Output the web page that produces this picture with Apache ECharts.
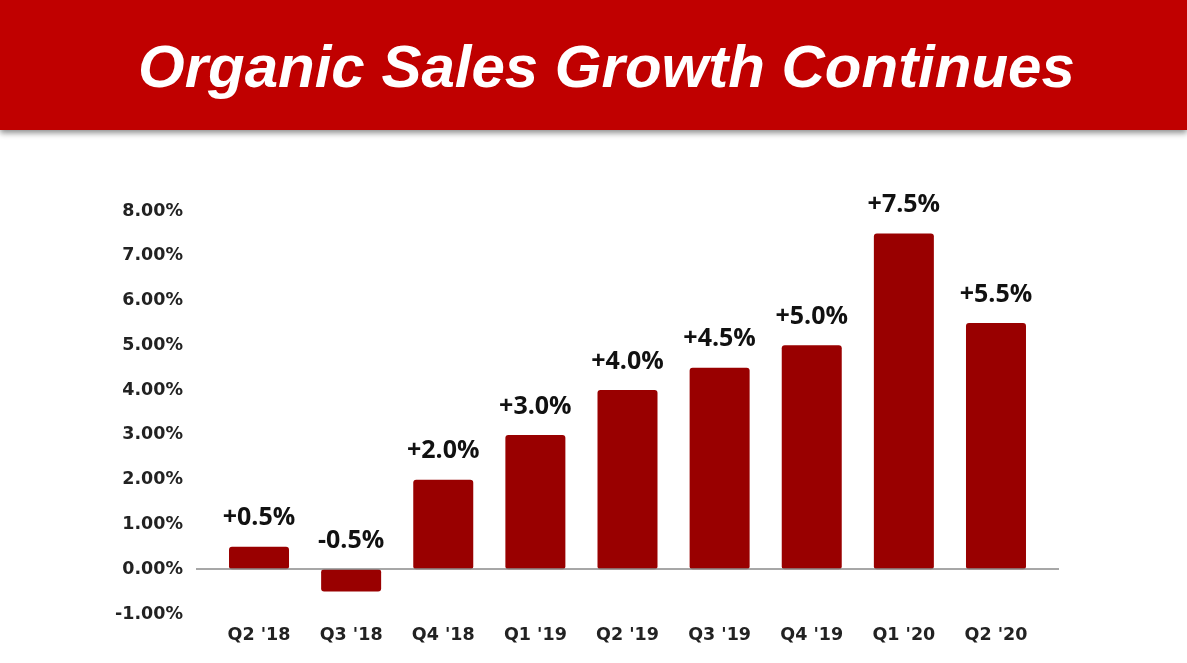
<!DOCTYPE html>
<html>
<head>
<meta charset="utf-8">
<title>Organic Sales Growth Continues</title>
<script src="https://cdn.jsdelivr.net/npm/echarts@6/dist/echarts.min.js"></script>
<style>
	html, body { margin: 0; padding: 0; background: #ffffff; }
	#tubiao { width: 1187px; height: 663px; }
</style>
</head>
<body>
<div id="tubiao"></div>
<script>
// 数据
var quarters = ["Q2 '18", "Q3 '18", "Q4 '18", "Q1 '19", "Q2 '19", "Q3 '19", "Q4 '19", "Q1 '20", "Q2 '20"];
var growth = [0.5, -0.5, 2.0, 3.0, 4.0, 4.5, 5.0, 7.5, 5.5];
var yTicks = [-1, 0, 1, 2, 3, 4, 5, 6, 7, 8];

var barData = growth.map(function (v, i) { return [i, v]; });
var quarterIdx = quarters.map(function (q, i) { return i; });

var myChart = echarts.init(document.getElementById('tubiao'));

var option = {
	backgroundColor: '#ffffff',
	animation: false,
	graphic: [
		{
			type: 'rect',                       // 顶部红色标题栏
			z: 0,
			shape: { x: 0, y: 0, width: 1187, height: 130 },
			style: {
				fill: '#c00000',
				shadowBlur: 6,
				shadowOffsetY: 3,
				shadowColor: 'rgba(0,0,0,0.45)'
			}
		}
	],
	title: {
		text: 'Organic Sales Growth Continues',
		left: 138,
		top: 40,
		padding: 0,
		z: 10,
		textStyle: {
			color: '#ffffff',
			fontFamily: 'Liberation Sans',
			fontStyle: 'italic',
			fontWeight: 'bold',
			fontSize: 60,
			lineHeight: 60
		}
	},
	grid: {
		left: 196,
		right: 128,
		top: 211,
		bottom: 49,
		outerBoundsMode: 'none',
		containLabel: false
	},
	xAxis: {
		type: 'value',
		min: -0.684,
		max: 8.684,
		splitLine: { show: false },
		axisTick: { show: false },
		axisLine: { show: false, onZero: false },
		axisLabel: {
			customValues: quarterIdx,
			margin: 12,
			color: '#222222',
			fontFamily: 'DejaVu Sans',
			fontWeight: 'bold',
			fontSize: 17.5,
			formatter: function (v) { return quarters[Math.round(v)]; }
		}
	},
	yAxis: {
		type: 'value',
		min: yTicks[0],
		max: yTicks[yTicks.length - 1],
		interval: 1,
		splitLine: { show: false },
		axisLine: { show: false },
		axisTick: { show: false },
		axisLabel: {
			margin: 13,
			color: '#222222',
			fontFamily: 'DejaVu Sans',
			fontWeight: 'bold',
			fontSize: 17.5,
			formatter: function (v) { return v.toFixed(2) + '%'; }
		}
	},
	series: [
		{
			name: 'Organic Sales Growth',
			type: 'bar',
			barWidth: 60,
			data: barData,
			itemStyle: {
				color: '#990000',
				borderRadius: 3
			},
			label: {
				show: true,
				position: 'top',
				distance: 16,
				color: '#111111',
				fontFamily: 'Open Sans',
				fontWeight: 'bold',
				fontSize: 25,
				formatter: function (p) {
					var v = p.value[1];
					return (v > 0 ? '+' : '') + v.toFixed(1) + '%';
				}
			},
			markLine: {
				silent: true,
				symbol: 'none',
				label: { show: false },
				lineStyle: { color: '#8a8a8a', width: 1.5, type: 'solid' },
				data: [{ yAxis: 0 }]
			}
		}
	]
};
myChart.setOption(option);
</script>
</body>
</html>
